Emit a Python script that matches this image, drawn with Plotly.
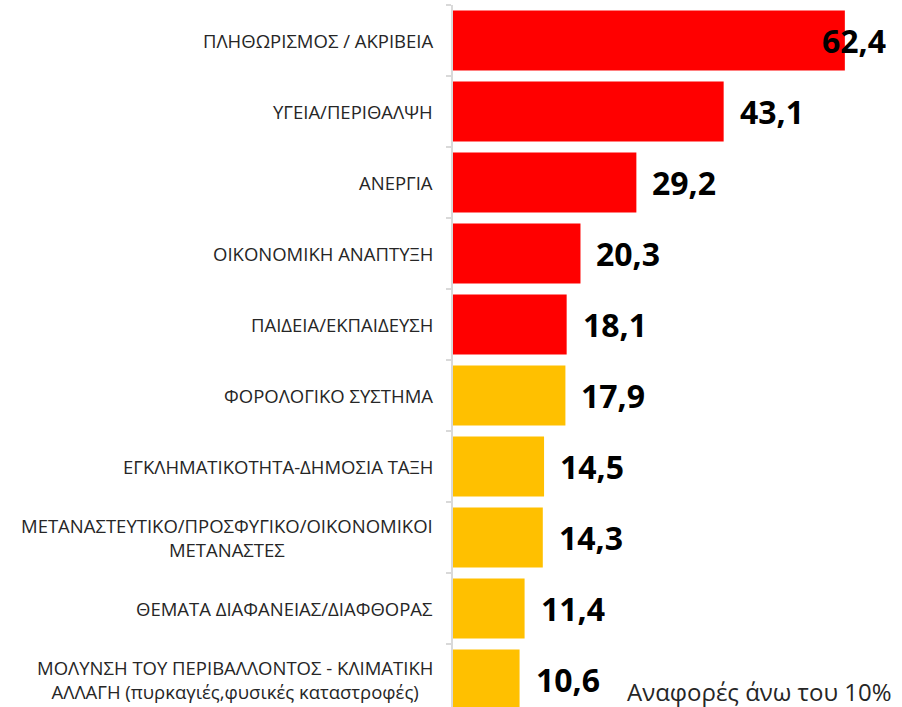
import plotly.graph_objects as go

categories = [
    "ΠΛΗΘΩΡΙΣΜΟΣ / ΑΚΡΙΒΕΙΑ",
    "ΥΓΕΙΑ/ΠΕΡΙΘΑΛΨΗ",
    "ΑΝΕΡΓΙΑ",
    "ΟΙΚΟΝΟΜΙΚΗ ΑΝΑΠΤΥΞΗ",
    "ΠΑΙΔΕΙΑ/ΕΚΠΑΙΔΕΥΣΗ",
    "ΦΟΡΟΛΟΓΙΚΟ ΣΥΣΤΗΜΑ",
    "ΕΓΚΛΗΜΑΤΙΚΟΤΗΤΑ-ΔΗΜΟΣΙΑ ΤΑΞΗ",
    "ΜΕΤΑΝΑΣΤΕΥΤΙΚΟ/ΠΡΟΣΦΥΓΙΚΟ/ΟΙΚΟΝΟΜΙΚΟΙ<br>ΜΕΤΑΝΑΣΤΕΣ",
    "ΘΕΜΑΤΑ ΔΙΑΦΑΝΕΙΑΣ/ΔΙΑΦΘΟΡΑΣ",
    "ΜΟΛΥΝΣΗ ΤΟΥ ΠΕΡΙΒΑΛΛΟΝΤΟΣ - ΚΛΙΜΑΤΙΚΗ<br>ΑΛΛΑΓΗ (πυρκαγιές,φυσικές καταστροφές)",
]
values = [62.4, 43.1, 29.2, 20.3, 18.1, 17.9, 14.5, 14.3, 11.4, 10.6]
groups = ["top", "top", "top", "top", "top", "other", "other", "other", "other", "other"]
note_text = "Αναφορές άνω του 10%"

group_colors = {"top": "#FF0000", "other": "#FFC000"}
colors = [group_colors[g] for g in groups]

W, H = 902, 707
ML, MT = 453, 5
XMAX = 71.5
plot_w = W - ML
px_per_unit = plot_w / XMAX
band_px = 71
n = len(categories)
y_bottom = -0.5 + (H - MT) / band_px

ids = list(range(n))

fig = go.Figure()
fig.add_trace(go.Bar(
    y=ids, x=values, orientation="h",
    marker=dict(color=colors, line=dict(width=0)),
    hoverinfo="skip",
))

annotations = []
label_font = dict(family="Open Sans, Calibri, sans-serif", size=32, color="#000000")
for i, v in enumerate(values):
    txt = f"{v:.1f}".replace(".", ",")
    if v * px_per_unit + 15 + 66 > plot_w:
        annotations.append(dict(x=XMAX, y=i, xref="x", yref="y", text=f"<b>{txt}</b>",
                                showarrow=False, xanchor="right", yanchor="middle",
                                xshift=-14, font=label_font))
    else:
        annotations.append(dict(x=v, y=i, xref="x", yref="y", text=f"<b>{txt}</b>",
                                showarrow=False, xanchor="left", yanchor="middle",
                                xshift=14, font=label_font))

for i, c in enumerate(categories):
    annotations.append(dict(x=0, y=i, xref="x", yref="y", text=c, showarrow=False,
                            xanchor="right", yanchor="middle", align="center",
                            xshift=-18,
                            font=dict(family="Open Sans, sans-serif", size=18.5, color="#262626")))

annotations.append(dict(x=1, y=0, xref="paper", yref="paper", text=note_text,
                        showarrow=False, xanchor="right", yanchor="bottom",
                        xshift=-8, yshift=-3,
                        font=dict(family="Open Sans, sans-serif", size=24, color="#262626")))

fig.update_layout(
    width=W, height=H,
    margin=dict(l=ML, r=0, t=MT, b=0, pad=0),
    paper_bgcolor="white", plot_bgcolor="white",
    showlegend=False,
    bargap=11 / 71,
    xaxis=dict(range=[0, XMAX], visible=False, fixedrange=True),
    yaxis=dict(type="linear", range=[y_bottom, -0.5], showticklabels=False,
               showgrid=False, zeroline=False, showline=True, linecolor="#d9d9d9",
               linewidth=2, ticks="outside", ticklen=5, tickcolor="#d9d9d9",
               tickwidth=2, tickmode="array",
               tickvals=[i - 0.5 for i in range(n + 1)], fixedrange=True),
    annotations=annotations,
)

fig.write_html("out.html", config={"displayModeBar": False},
               post_script="document.body.style.margin='0';document.body.style.overflow='hidden';")
